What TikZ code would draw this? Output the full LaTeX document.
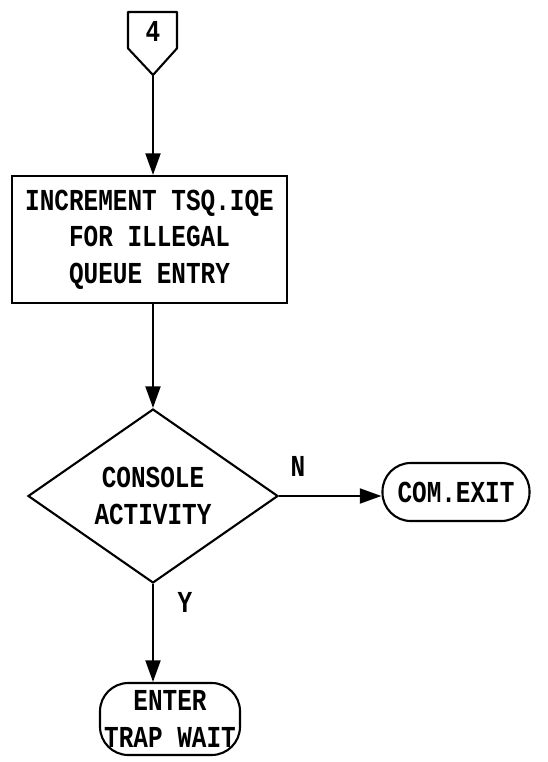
\documentclass[tikz,border=0pt]{standalone}
\usepackage{fontspec}
\setmonofont{Liberation Mono}[FakeStretch=0.8]
\usetikzlibrary{arrows.meta, shapes.geometric}
\tikzset{
  flow/.style={-{Triangle[length=6.5mm, width=4.5mm]}, line width=1.8pt},
  box/.style={draw, line width=1.8pt, align=center, inner sep=0pt},
  term/.style={box, rounded corners=0.85cm},
  every node/.append style={font=\ttfamily\bfseries\fontsize{26}{31}\selectfont}
}
\begin{document}
\begin{tikzpicture}
\useasboundingbox (0,0) rectangle (16.41,-22.86);
% off-page connector
\draw[line width=1.8pt, line join=round] (3.84,-0.36) -- (5.31,-0.36) -- (5.31,-1.45) -- (4.59,-2.25) -- (3.84,-1.45) -- cycle;
\node (c4) at (4.59,-0.95) {4};
\coordinate (c4tip) at (4.59,-2.25);
\node[box, minimum width=8.25cm, minimum height=3.81cm] (incr) at (4.485,-7.185)
  {INCREMENT TSQ.IQE\\FOR ILLEGAL\\QUEUE ENTRY};
\node[draw, diamond, line width=1.8pt, minimum width=7.5cm, minimum height=5.04cm, inner sep=0pt, align=center] (cons) at (4.59,-14.88)
  {CONSOLE\\ACTIVITY};
\node[term, minimum width=4.41cm, minimum height=1.74cm] (exit) at (13.68,-14.76) {COM.EXIT};
\node[term, minimum width=4.2cm, minimum height=2.16cm] (trap) at (5.1,-21.57) {ENTER\\TRAP WAIT};
\draw[flow] (c4tip) -- (incr.north -| c4tip);
\draw[flow] (cons.north |- incr.south) -- (cons.north);
\draw[flow] (cons.east) -- (exit.west |- cons.east);
\draw[flow] (cons.south) -- (cons.south |- trap.north);
\node at (8.94,-13.98) {N};
\node at (5.55,-18.06) {Y};
\end{tikzpicture}
\end{document}
